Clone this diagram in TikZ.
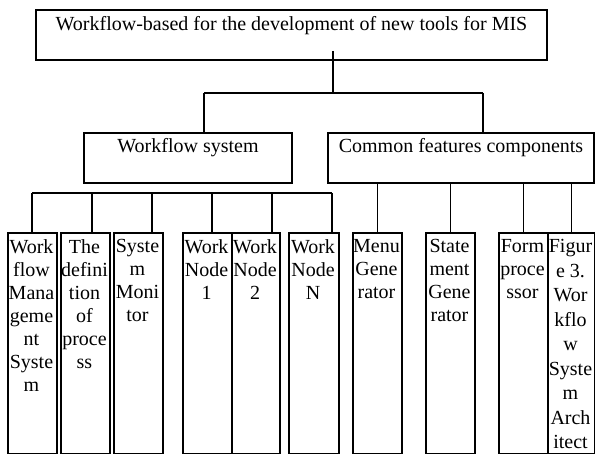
\documentclass[tikz,border=0pt]{standalone}
\usepackage{fontspec}
\setmainfont{Liberation Serif}
\begin{document}
\begin{tikzpicture}[x=1pt,y=-1pt,
  box/.style={draw, line width=1.6pt, inner sep=0pt},
  txt/.style={inner sep=0pt, align=center, font=\fontsize{20}{23}\selectfont},
  link/.style={line width=1.6pt}]
\useasboundingbox (0,0) rectangle (595,454);

% tall component column: name, left edge, right edge, text
\newcommand\tallbox[5][txt]{%
  \node[box, minimum width={#4-#3}, minimum height=221, anchor=north west] (#2) at (#3,232) {};
  \node[#1, anchor=north] (#2-t) at ({(#3+#4)/2},239.5) {#5};
}

% upper levels
\node[box, minimum width=511, minimum height=50] (top) at (291.5,35) {};
\node[txt, anchor=north] (top-t) at (291.5,16) {Workflow-based for the development of new tools for MIS};

\node[box, minimum width=208, minimum height=50] (ws) at (188,158) {};
\node[txt, anchor=north] (ws-t) at (188,138.5) {Workflow system};

\node[box, minimum width=266, minimum height=50] (cf) at (461,158) {};
\node[txt, anchor=north] (cf-t) at (461,138.5) {Common features components};

% bottom columns
\tallbox{b1}{7}{56}{Work\\flow\\Mana\\geme\\nt\\Syste\\m}
\tallbox{b2}{60}{109}{The\\defini\\tion\\of\\proce\\ss}
\tallbox{b3}{113}{162}{Syste\\m\\Moni\\tor}
\tallbox{b4}{182}{231}{Work\\Node\\1}
\tallbox{b5}{231}{279}{Work\\Node\\2}
\tallbox{b6}{288}{338}{Work\\Node\\N}
\tallbox{b7}{352}{401}{Menu\\Gene\\rator}
\tallbox{b8}{425}{474}{State\\ment\\Gene\\rator}
\tallbox{b9}{498}{547}{Form\\proce\\ssor}
\tallbox[txt, font=\fontsize{20}{24.5}\selectfont]{b10}{547}{594}{Figur\\e 3.\\Wor\\kflo\\w\\Syste\\m\\Arch\\itect}

% top-level branching
\coordinate (stem) at (333,51);
\coordinate (hub) at (333,93);
\coordinate (j1) at (204,93);
\coordinate (j2) at (483,93);
\draw[link] (stem) -- (hub);
\draw[link] (j1) -- (j2);
\draw[link] (j1) -- (j1 |- ws.north);
\draw[link] (j2) -- (j2 |- cf.north);

% workflow side bar
\coordinate (t1) at (32,193);
\coordinate (t2) at (92,193);
\coordinate (t3) at (152,193);
\coordinate (t4) at (212,193);
\coordinate (t5) at (272,193);
\coordinate (t6) at (332,193);
\draw[link] (t1) -- (t6);
\draw[link] (t1) -- (t1 |- b1.north);
\draw[link] (t2) -- (t2 |- b2.north);
\draw[link] (t3) -- (t3 |- b3.north);
\draw[link] (t4) -- (t4 |- b4.north);
\draw[link] (t5) -- (t5 |- b5.north);
\draw[link] (t6) -- (t6 |- b6.north);

% common features side
\foreach \b in {b7,b8,b9,b10}
  \draw[link] (\b.north |- cf.south) -- (\b.north);
\end{tikzpicture}
\end{document}
